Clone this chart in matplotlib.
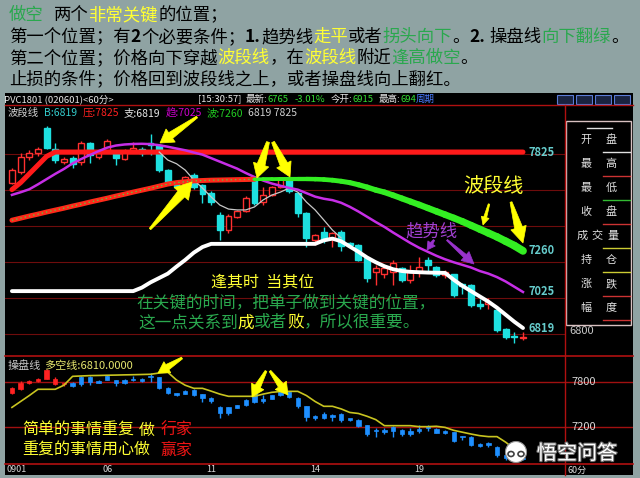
import numpy as np
import matplotlib
matplotlib.use("Agg")
import matplotlib.pyplot as plt
from matplotlib.patches import Rectangle, Polygon, Ellipse
from matplotlib.collections import LineCollection
import matplotlib.patheffects as pe

plt.rcParams['font.family'] = ['Noto Sans CJK SC', 'DejaVu Sans']

# ---- 60分钟K线 (PVC1801) ----
opens = [7650, 7710, 7795, 7820, 7960, 7840, 7770, 7790, 7770, 7875,
         7795, 7835, 7825, 7785, 7825, 7840, 7875, 7865, 7725, 7655,
         7645, 7695, 7635, 7590, 7465, 7380, 7455, 7490, 7665, 7540,
         7580, 7625, 7665, 7590, 7475, 7320, 7365, 7335, 7365, 7305,
         7295, 7220, 7140, 7125, 7140, 7160, 7095, 7140, 7210, 7170,
         7120, 7125, 7070, 7065, 6955, 6955, 6920, 6815, 6775, 6760]
highs = [7735, 7820, 7835, 7855, 7975, 7875, 7795, 7800, 7890, 7880,
         7825, 7900, 7835, 7840, 7880, 7855, 7930, 7870, 7730, 7660,
         7690, 7705, 7640, 7600, 7480, 7470, 7495, 7575, 7675, 7625,
         7630, 7680, 7680, 7595, 7480, 7355, 7395, 7365, 7380, 7310,
         7300, 7225, 7180, 7180, 7210, 7170, 7180, 7225, 7225, 7175,
         7150, 7130, 7075, 7070, 6985, 6990, 6935, 6820, 6795, 6795]
lows = [7640, 7700, 7780, 7800, 7845, 7760, 7755, 7735, 7750, 7760,
        7785, 7825, 7750, 7780, 7820, 7800, 7810, 7710, 7635, 7620,
        7640, 7615, 7535, 7520, 7320, 7360, 7450, 7480, 7520, 7520,
        7575, 7620, 7590, 7455, 7280, 7295, 7305, 7280, 7260, 7275,
        7200, 7080, 7065, 7105, 7065, 7080, 7075, 7110, 7140, 7110,
        7105, 6995, 7015, 6940, 6925, 6930, 6795, 6755, 6735, 6750]
closes = [7720, 7795, 7820, 7840, 7850, 7780, 7785, 7755, 7875, 7810,
          7820, 7890, 7790, 7830, 7850, 7820, 7865, 7720, 7655, 7625,
          7680, 7625, 7585, 7540, 7380, 7460, 7490, 7560, 7535, 7580,
          7625, 7670, 7600, 7475, 7335, 7350, 7320, 7360, 7290, 7295,
          7210, 7105, 7160, 7160, 7190, 7095, 7140, 7170, 7180, 7120,
          7140, 7010, 7060, 6950, 6945, 6965, 6810, 6770, 6765, 6770]

# 压力线
press = [7610, 7650, 7700, 7750, 7800] + [7825] * 55
# 趋势线
trend = [7580, 7595, 7612, 7640, 7670, 7700, 7728, 7760, 7785, 7808,
         7830, 7850, 7862, 7868, 7871, 7872, 7870, 7864, 7855, 7845,
         7835, 7822, 7810, 7790, 7770, 7750, 7730, 7705, 7682, 7662,
         7645, 7632, 7620, 7610, 7590, 7570, 7558, 7550, 7535, 7512,
         7485, 7455, 7425, 7397, 7365, 7335, 7305, 7278, 7255, 7232,
         7212, 7195, 7180, 7165, 7145, 7130, 7110, 7085, 7055, 7025]
# 波段线
wave = [7435, 7447, 7459, 7470, 7482, 7493, 7504, 7516, 7527, 7539,
        7550, 7561, 7573, 7584, 7596, 7607, 7618, 7630, 7642, 7650,
        7655, 7660, 7662, 7664, 7665, 7666, 7667, 7668, 7669, 7670,
        7670, 7671, 7671, 7671, 7671, 7670, 7668, 7664, 7658, 7650,
        7638, 7624, 7608, 7595, 7578, 7560, 7542, 7524, 7505, 7486,
        7467, 7448, 7428, 7406, 7384, 7362, 7340, 7315, 7290, 7260]
# 支撑线
support = [7030, 7030, 7030, 7030, 7030, 7030, 7030, 7030, 7030, 7030,
           7030, 7030, 7030, 7030, 7030, 7050, 7080, 7105, 7130, 7170,
           7208, 7250, 7282, 7300, 7300, 7300, 7300, 7300, 7300, 7300,
           7300, 7300, 7300, 7300, 7300, 7300, 7320, 7330, 7315, 7285,
           7255, 7222, 7195, 7172, 7155, 7145, 7140, 7138, 7136, 7135,
           7134, 7095, 7060, 7030, 7000, 6970, 6935, 6895, 6855, 6819]
nan = np.nan
short_ma = [nan] * 17 + [7825, 7779, 7758, 7722, 7665, 7619, 7568, 7522, 7499, 7494,
                         7494, 7511, 7551, 7579, 7596, 7619, 7596, 7539, 7494, 7437,
                         7379, 7334] + [nan] * 21
# 操盘线 / 多空线
kp_line = [7460, 7540, 7620, 7705, 7705, 7705, 7760, 7880, 7885, 7890,
           7892, 7895, 7897, 7900, 7902, 7905, 7908, 7925, 7935, 7830,
           7760, 7718, 7718, 7680, 7640, 7610, 7610, 7610, 7610, 7640,
           7664, 7675, 7677, 7677, 7620, 7540, 7475, 7475, 7440, 7392,
           7378, 7340, 7295, 7213, 7213, 7213, 7213, 7200, 7200, 7205,
           7190, 7150, 7125, 7100, 7078, 7065, 7065, 6990, 6900, 6810]

main_grid = [7814, 7608, 7402, 7196, 6990, 6784]
low_grid = [7800, 7200]
tick_pos = [0, 11, 23, 35, 47]
tick_lab = ['0901', '06', '11', '14', '19']
info_rows = [('开', '盘'), ('最', '高'), ('最', '低'), ('收', '盘'),
             ('成', '交', '量'), ('持', '仓'), ('涨', '跌'), ('幅', '度')]
info_cols = ['#e0e0e0', '#cc3333', '#33bb33', '#cc3333',
             '#cccc33', '#cccc33', '#cc3333', '#cc3333']

YEL = '#ffff33'
GRN = '#2aa84e'
RED = '#ee1515'

W, H = 640, 478
fig = plt.figure(figsize=(6.4, 4.78), dpi=100, facecolor='#8fa3a3')


def px_axes(l, t, r, b, z):
    a = fig.add_axes([l / W, 1 - b / H, (r - l) / W, (b - t) / H])
    a.set_zorder(z)
    return a


bg = px_axes(0, 0, W, H, 0)
bg.set_xlim(0, W); bg.set_ylim(H, 0); bg.axis('off')
bg.add_patch(Rectangle((5, 93), 628, 382, fc='black', ec='none'))

o = np.array(opens); h = np.array(highs); l = np.array(lows); c = np.array(closes)
idx = np.arange(len(o))
up = c >= o

# ---- 主图 ----
ax = px_axes(5, 106, 565, 352, 1)
ax.set_facecolor('black')
ax.set_xlim(-0.8, 63.85)
ax.set_ylim(6682, 8088)
ax.set_xticks([]); ax.set_yticks([])
for s in ax.spines.values():
    s.set_visible(False)
for g in main_grid:
    ax.axhline(g, color='#6e0c0c', lw=0.8, zorder=1)

cols = np.where(up, '#ff3030', '#1ee0e0')
ax.vlines(idx, l, h, colors=cols, lw=1, zorder=2)
ax.bar(idx, np.maximum(np.abs(c - o), 8), bottom=np.minimum(o, c), width=0.68,
       color=np.where(up, 'black', '#1ee0e0'), edgecolor=cols, linewidth=1, zorder=3)

ax.plot(idx, press, color='#ff1a1a', lw=3.6, solid_capstyle='round', zorder=4)
ax.plot(idx, support, color='white', lw=2.8, solid_capstyle='round', zorder=4)
ax.plot(idx, short_ma, color='#c8c8c8', lw=0.9, zorder=4)
ax.plot(idx, trend, color='#c62ee6', lw=1.8, zorder=5)
ax.plot(idx[:29], wave[:29], color='#ff2a1a', lw=3.6, solid_capstyle='round', zorder=5)
ax.plot(idx[:29], wave[:29], color='#44dd44', lw=0.9, ls=(0, (1, 2.5)), zorder=6)
pts = np.column_stack([idx[28:], wave[28:]])
segs = np.stack([pts[:-1], pts[1:]], axis=1)
ax.add_collection(LineCollection(segs, linewidths=np.linspace(2.6, 5.6, len(segs)),
                                 colors='#33ee22', capstyle='round', zorder=6))
for v in [press[-1], wave[-1], trend[-1], support[-1]]:
    ax.text(59.6, v, f'{v}', color='#66cccc', fontsize=8, fontweight='bold',
            ha='left', va='center', zorder=7)
ax.text(64.4, 6800, '6800', color='#c8c8c8', fontsize=8, ha='left', va='center',
        clip_on=False)

# ---- 副图 操盘线 ----
lx = px_axes(5, 356, 633, 464, 1)
lx.set_facecolor('black')
lx.set_xlim(-0.8, 71.7)
lx.set_ylim(6695, 8155)
lx.set_xticks([]); lx.set_yticks([])
for k, s in lx.spines.items():
    s.set_visible(k in ('top', 'bottom'))
    s.set_color('#b01010'); s.set_linewidth(1.2)
for g in low_grid:
    lx.axhline(g, color='#a01010', lw=1, zorder=1)
    lx.text(64.6, g, f'{g}', color='#d8d8d8', fontsize=8, ha='left', va='center')
kp = np.array(kp_line)
lcols = np.where(c > kp, '#ff2222', '#1e8fff')
lx.vlines(idx, l, h, colors=lcols, lw=1, zorder=2)
lx.bar(idx, np.maximum(np.abs(c - o), 18), bottom=np.minimum(o, c), width=0.5,
       color=lcols, edgecolor=lcols, linewidth=0.5, zorder=3)
lx.plot(idx, kp, color='#c8c420', lw=1.2, zorder=4)
for p, t in zip(tick_pos, tick_lab):
    lx.text(p - 0.6, -0.055, t, color='#d8d8d8', fontsize=6.5, ha='left', va='center',
            transform=lx.get_xaxis_transform(), clip_on=False)

# ---- 叠加层 ----
ov = px_axes(0, 0, W, H, 5)
ov.set_xlim(0, W); ov.set_ylim(H, 0); ov.axis('off')
ov.patch.set_alpha(0)
rend = fig.canvas.get_renderer()


def rich(x, y, parts, size):
    for p in parts:
        if isinstance(p, (int, float)):
            x += p
            continue
        wt = p[2] if len(p) > 2 else 'normal'
        t = ov.text(x, y, p[0], color=p[1], fontsize=size, fontweight=wt,
                    ha='left', va='center')
        x += t.get_window_extent(rend).width
    return x


def arrow(tail, tip, w0, w1, hw, hl, color):
    p0 = np.array(tail, float); p1 = np.array(tip, float)
    d = p1 - p0
    u = d / np.hypot(*d)
    nv = np.array([-u[1], u[0]])
    b = p1 - u * hl
    poly = [p0 + nv * w0 / 2, b + nv * w1 / 2, b + nv * hw / 2, p1,
            b - nv * hw / 2, b - nv * w1 / 2, p0 - nv * w0 / 2]
    ov.add_patch(Polygon(poly, closed=True, fc=color, ec=color, lw=0.5))


# 顶部说明文字
K = 'black'
rich(9, 15, [('做空', GRN), 10, ('两个', K), ('非常关键', YEL), ('的位置；', K)], 12.5)
rich(9, 37, [('第一个位置；有', K), ('2', K, 'bold'), ('个必要条件；', K), ('1.', K, 'bold'),
             ('趋势线', K), ('走平', YEL), ('或者', K), ('拐头向下', GRN), ('。', K),
             ('2.', K, 'bold'), 4, ('操盘线', K), ('向下翻绿', GRN), ('。', K)], 12.5)
rich(9, 58, [('第二个位置；价格向下穿越', K), ('波段线', YEL), ('，在', K), ('波段线', YEL),
             ('附近', K), ('逢高做空', GRN), ('。', K)], 12.5)
rich(9, 79, [('止损的条件；价格回到波段线之上，或者操盘线向上翻红。', K)], 12.5)

# 标题栏
rich(4, 99, [('PVC1801 (020601)<60分>', '#e8e8e8')], 6.8)
rich(198, 99, [('[15:30:57]', '#e8e8e8'), 4, ('最新:', '#e8e8e8'), ('6765', '#33dd33'), 6,
               ('-3.01%', '#33dd33'), 6, ('今开:', '#e8e8e8'), ('6915', '#33dd33'), 5,
               ('最高:', '#e8e8e8'), ('694', '#33dd33'), ('周期', '#4a7cff')], 6.8)
for bx in [557, 576, 595, 614]:
    ov.add_patch(Rectangle((bx, 95), 16, 9, fc='#1a2340', ec='#5b7bd5', lw=0.8))
ov.plot([5, 633], [105, 105], color='#b01010', lw=1)
ov.plot([565, 565], [105, 475], color='#b01010', lw=1)
rich(8, 113, [('波段线', '#d0d0d0'), 5, ('B:6819', '#33cccc'), 5, ('压:7825', '#ff2020'), 5,
              ('支:6819', '#e8e8e8'), 5, ('趋:7025', '#cc00cc'), 5, ('波:7260', '#22cc22'), 5,
              ('6819 7825', '#d0d0d0')], 7.5)

# 右侧信息框
ov.add_patch(Rectangle((566, 121), 65, 204, fc='black', ec='#d8c0c0', lw=1))
ov.plot([587, 612], [128, 128], color='#e0e0e0', lw=1)
for i, (row, lc) in enumerate(zip(info_rows, info_cols)):
    y = 140 + 24 * i
    xs = [586, 611] if len(row) == 2 else [582, 597, 613]
    for xx, ch in zip(xs, row):
        ov.text(xx, y, ch, color='#e0e0e0', fontsize=8, ha='center', va='center')
    ov.plot([603, 630], [y + 12, y + 12], color=lc, lw=1)

# 主图标注
ov.text(493, 186, '波段线', color=YEL, fontsize=14.5, ha='center', va='center')
ov.text(431, 231, '趋势线', color='#a040d0', fontsize=12.5, ha='center', va='center')
ov.text(263, 282, '逢其时  当其位', color=YEL, fontsize=11.5, ha='center', va='center')
ov.text(286, 303, '在关键的时间，把单子做到关键的位置，', color=GRN, fontsize=12,
        ha='center', va='center')
rich(138, 323, [('这一点关系到', GRN), ('成', YEL), ('或者', GRN), ('败', YEL),
                ('，所以很重要。', GRN)], 12)

arrow((197, 117), (160, 143), 2, 7, 16, 13, '#ffff00')
arrow((150, 229), (192, 182), 2, 9, 19, 16, '#ffff00')
arrow((268, 142), (257, 178), 3, 8, 16, 14, '#ffff00')
arrow((273, 142), (290, 177), 3, 8, 16, 14, '#ffff00')
arrow((489, 204), (483, 225), 1.5, 3, 8, 8, '#ffff00')
arrow((511, 202), (523, 243), 2, 8, 16, 16, '#ffff00')
arrow((434, 240), (427, 250), 1.5, 3, 9, 8, '#9933cc')
arrow((447, 240), (474, 264), 1.5, 4, 12, 12, '#9933cc')

# 副图标注
ov.text(8, 366, '操盘线', color='#c8c8c8', fontsize=8, ha='left', va='center')
ov.text(44, 366, f'多空线:{kp_line[-1]:.4f}', color='#e6e66e', fontsize=8,
        ha='left', va='center')
arrow((182, 358), (158, 373), 2, 6, 13, 11, '#ffff00')
arrow((266, 371), (252, 397), 2, 6, 14, 12, '#ffff00')
arrow((270, 371), (288, 395), 2, 6, 14, 12, '#ffff00')
rich(22, 430, [('简单的事情重复', YEL), 5, ('做', YEL), 6, ('行家', RED)], 11.5)
rich(22, 450, [('重复的事情用心做', YEL), 10, ('赢家', RED)], 11.5)
ov.text(568, 470, '60分', color='#d8d8d8', fontsize=6.5, ha='left', va='center')

# 水印
ov.add_patch(Ellipse((516, 452), 21, 21, fc='white', ec='#909090', lw=0.8))
for ex in (511, 521):
    ov.add_patch(Ellipse((ex, 454), 6, 5, fc='none', ec='#404040', lw=1.2))
ov.text(577, 454, '悟空问答', color='white', fontsize=14.5, ha='center', va='center',
        path_effects=[pe.withStroke(linewidth=1.5, foreground='#707070')])

fig.savefig('out.png', dpi=100, facecolor=fig.get_facecolor())
